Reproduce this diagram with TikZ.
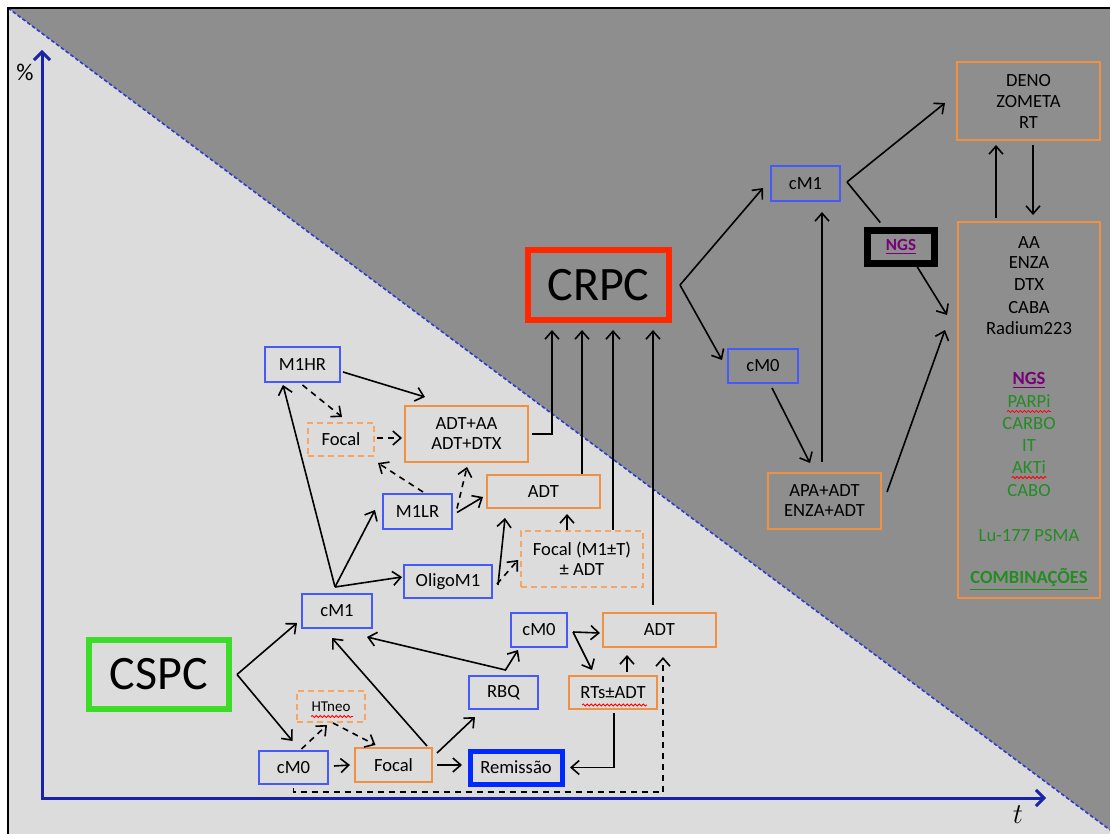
\documentclass[tikz,border=0pt]{standalone}
\usepackage{fontspec}
\setmainfont{Carlito}
\usetikzlibrary{arrows.meta,decorations.pathmorphing,calc}
\definecolor{boxblue}{RGB}{70,90,250}
\definecolor{boxorange}{RGB}{240,145,65}
\definecolor{dashorange}{RGB}{245,165,100}
\definecolor{lightbg}{RGB}{220,220,220}
\definecolor{darkbg}{RGB}{142,142,142}
\definecolor{axisblue}{RGB}{25,35,170}
\definecolor{diagblue}{RGB}{45,60,200}
\definecolor{cspcgreen}{RGB}{60,220,40}
\definecolor{crpcred}{RGB}{255,40,0}
\definecolor{remblue}{RGB}{0,40,255}
\definecolor{txtgreen}{RGB}{35,140,35}
\definecolor{ngspurple}{RGB}{120,0,120}
\begin{document}
\begin{tikzpicture}[x=0.5pt,y=-0.5pt,
  >={Straight Barb[length=4pt,width=7pt]},
  nb/.style={inner sep=0pt, outer sep=0pt, align=center, font=\fontsize{9.3}{10}\selectfont},
  bluebox/.style={nb, draw=boxblue, line width=0.75pt},
  orangebox/.style={nb, draw=boxorange, line width=0.75pt},
  dashbox/.style={nb, draw=dashorange, line width=0.75pt, dash pattern=on 3pt off 2pt},
  sz/.style 2 args={minimum width=#1*0.5pt, minimum height=#2*0.5pt},
  conn/.style={draw=black, line width=0.8pt},
  dconn/.style={conn, dash pattern=on 3pt off 2.5pt},
  wavy/.style={draw=red, line width=0.4pt, decorate, decoration={snake, amplitude=0.5pt, segment length=2pt}},
  listtxt/.style={inner sep=0pt, anchor=base, font=\fontsize{9.3}{10}\selectfont},
  greentxt/.style={listtxt, text=txtgreen},
]
\useasboundingbox (0,0) rectangle (1110,834);
% background
\fill[white] (0,0) rectangle (1110,834);
\fill[lightbg] (8,8) -- (1110,830) -- (1110,834) -- (8,834) -- cycle;
\fill[darkbg] (8,8) -- (1110,8) -- (1110,830) -- cycle;
\draw[diagblue, line width=0.8pt, dash pattern=on 1.8pt off 1.2pt] (8,8) -- (1110,830);
\draw[black, line width=1pt] (8,834) -- (8,8) -- (1110,8);
% axes
\draw[axisblue, line width=1.5pt, {Straight Barb[length=4pt,width=8pt]}-{Straight Barb[length=4pt,width=8pt]}] (42,50) -- (42,798) -- (1046,798);
\node[font=\fontsize{12}{12}\selectfont] (pct) at (25,72) {\%};
\node[font=\fontsize{14}{14}\selectfont] (tlab) at (1018,815) {$t$};

% nodes
\node[draw=cspcgreen, line width=3pt, nb, sz={140.5}{69}, font=\fontsize{24}{26}\selectfont] (cspc) at (158.75,674.5) {CSPC};
\node[draw=crpcred, line width=3pt, nb, sz={141}{70}, font=\fontsize{24}{26}\selectfont] (crpc) at (598.5,285) {CRPC};
\node[bluebox, sz={70}{34}] (cmA) at (337,611) {cM1};
\node[bluebox, sz={69}{33}] (cmB) at (293.5,767.5) {cM0};
\node[dashbox, sz={68}{31}, font=\fontsize{7.5}{9}\selectfont] (htneo) at (331,706.5) {HTneo};
\node[orangebox, sz={77}{34}] (focalB) at (393.5,765) {Focal};
\node[draw=remblue, line width=2.5pt, nb, sz={92}{33}] (remis) at (516,767.5) {Remissão};
\node[bluebox, sz={69}{33}] (rbq) at (503.5,692.5) {RBQ};
\node[bluebox, sz={56}{34}] (cmC) at (539,630) {cM0};
\node[orangebox, sz={113}{34}] (adtB) at (659.5,630) {ADT};
\node[orangebox, sz={88}{33}] (rts) at (613,692.5) {RTs±ADT};
\node[bluebox, sz={88}{33}] (oligo) at (448,581.5) {OligoM1};
\node[dashbox, sz={122}{56}] (focalT) at (582,559) {Focal (M1±T)\\± ADT};
\node[orangebox, sz={113}{33}] (adtM) at (543.5,491.5) {ADT};
\node[bluebox, sz={69}{35}] (mlr) at (417.5,511.5) {M1LR};
\node[dashbox, sz={66}{33}] (focalU) at (341,439.5) {Focal};
\node[orangebox, sz={123}{56}] (adtaa) at (466.5,434) {ADT+AA\\ADT+DTX};
\node[bluebox, sz={75}{35}] (mhr) at (302.5,364.5) {M1HR};
\node[bluebox, sz={69}{35}] (cmD) at (805.5,183.5) {cM1};
\node[bluebox, sz={70}{34}] (cmE) at (763,366) {cM0};
\node[orangebox, sz={113}{56}] (apa) at (824.5,501) {APA+ADT\\ENZA+ADT};
\node[draw=black, line width=3.5pt, nb, sz={67.5}{33}, font=\bfseries\fontsize{8.5}{10}\selectfont, text=ngspurple] (ngs) at (901,247) {\underline{NGS}};
\node[orangebox, sz={143}{78}, font=\fontsize{9.3}{10.5}\selectfont] (deno) at (1028.5,101) {DENO\\ZOMETA\\RT};
\node[orangebox, sz={142}{376}] (big) at (1029,410) {};

% list in big box
\node[listtxt] (l1) at (1029,248.5) {AA};
\node[listtxt] (l2) at (1029,268.5) {ENZA};
\node[listtxt] (l3) at (1029,290.5) {DTX};
\node[listtxt] (l4) at (1029,313.5) {CABA};
\node[listtxt] (l5) at (1029,334.5) {Radium223};
\node[listtxt, text=ngspurple, font=\bfseries\fontsize{9.3}{10}\selectfont] (l6) at (1029,384.5) {\underline{NGS}};
\node[greentxt] (l7) at (1029,407.5) {PARPi};
\node[greentxt] (l8) at (1029,429.5) {CARBO};
\node[greentxt] (l9) at (1029,451.5) {IT};
\node[greentxt] (l10) at (1029,473.5) {AKTi};
\node[greentxt] (l11) at (1029,496.5) {CABO};
\node[greentxt] (l12) at (1029,541.5) {Lu-177 PSMA};
\node[greentxt, font=\bfseries\fontsize{9.3}{10}\selectfont] (l13) at (1029,583.5) {\underline{COMBINAÇÕES}};

% wavy spell-check underlines
\draw[wavy] ([shift={(-20,10)}]htneo.center) -- ([shift={(22,10)}]htneo.center);
\draw[wavy] ([shift={(-31,12.5)}]rts.center) -- ([shift={(34,12.5)}]rts.center);
\draw[wavy] ([shift={(0,4)}]l7.base west) -- ([shift={(0,4)}]l7.base east);
\draw[wavy] ([shift={(0,4)}]l10.base west) -- ([shift={(0,4)}]l10.base east);

% connectors, lower left
\coordinate (vA) at ([shift={(8,0)}]cspc.east);
\draw[conn,->] (vA) -- ([shift={(-5,-5)}]cmA.south west);
\draw[conn,->] (vA) -- ([shift={(-1,-10)}]cmB.north);
\draw[conn,->] ([shift={(6,-1.5)}]cmB.east) -- ([shift={(-5,0)}]focalB.west);
\draw[conn,->] ([shift={(5,0)}]focalB.east) -- ([shift={(-8,-2.5)}]remis.west);
\draw[dconn,->] ([shift={(8,-2)}]cmB.north) -- ([shift={(-4,3)}]htneo.south);
\draw[dconn,->] ([shift={(2,1)}]htneo.south) -- ([shift={(-18,-3)}]focalB.north);
\draw[conn,->] ([shift={(-5,-2)}]focalB.north east) -- ([shift={(-5,10)}]cmA.south);
\draw[conn,->] ([shift={(5,5)}]focalB.north east) -- ([shift={(6,8)}]rbq.south west);
\draw[conn,<->] ([shift={(-5,9)}]cmA.south east) -- ([shift={(2,-6)}]rbq.north) -- ([shift={(7,3)}]cmC.south west);
\coordinate (vB) at ([shift={(6,2)}]cmC.east);
\draw[conn,->] (vB) -- ([shift={(-3,3)}]adtB.west);
\draw[conn,->] (vB) -- ([shift={(-21,-6)}]rts.north);
\draw[conn,->] ([shift={(14,-4)}]rts.north) -- ([shift={(-32.5,8)}]adtB.south);
\draw[conn,->] ([shift={(1,4)}]rts.south) |- ([shift={(8,0)}]remis.east);
\draw[dconn,->] ([shift={(0,4)}]cmB.south) -- ++(0,4) -| ([shift={(3.5,10)}]adtB.south);

% into CRPC
\draw[conn,->] ([shift={(4,0)}]adtaa.east) -| ([shift={(-46.5,10)}]crpc.south);
\draw[conn,->] ([shift={(38.5,-1)}]adtM.north) -- ([shift={(-16.5,10)}]crpc.south);
\draw[conn,->] ([shift={(31,-1)}]focalT.north) -- ([shift={(14.5,10)}]crpc.south);
\draw[conn,->] ([shift={(-6.5,-8)}]adtB.north) -- ([shift={(54.5,10)}]crpc.south);

% cM1 branches
\coordinate (vC) at ([shift={(-2,-7)}]cmA.north);
\draw[conn,->] (vC) -- ([shift={(-19.5,3)}]mhr.south);
\draw[conn,->] (vC) -- ([shift={(-8,-1.5)}]mlr.west);
\draw[conn,->] (vC) -- ([shift={(-2,-4.5)}]oligo.west);
\draw[conn,->] ([shift={(3,7.5)}]mhr.east) -- ([shift={(20,-9)}]adtaa.north west);
\draw[dconn,->] ([shift={(0,3)}]mhr.south) -- ([shift={(1,-6)}]focalU.north);
\draw[dconn,->] ([shift={(3,-1.5)}]focalU.east) -- ([shift={(-3,4)}]adtaa.west);
\draw[dconn,->] ([shift={(5.5,-2)}]mlr.north) -- ([shift={(4,7)}]focalU.south east);
\draw[dconn,->] ([shift={(5,-3)}]mlr.east) -- ([shift={(0.5,5)}]adtaa.south);
\draw[conn,->] ([shift={(5,1)}]mlr.east) -- ([shift={(-4,5.5)}]adtM.west);
\draw[conn,->] ([shift={(6,3.5)}]oligo.east) -- ([shift={(18,10)}]adtM.south west);
\draw[dconn,->] ([shift={(5,2.5)}]oligo.east) -- ([shift={(-3,1)}]focalT.west);
\draw[conn,->] ([shift={(-15,-1)}]focalT.north) -- ([shift={(23.5,6)}]adtM.south);

% right part
\coordinate (vD) at ([shift={(11,0)}]crpc.east);
\draw[conn,->] (vD) -- ([shift={(-8,4.5)}]cmD.west);
\draw[conn,->] (vD) -- ([shift={(-6,-6)}]cmE.west);
\draw[conn,->] ([shift={(9,5)}]cmE.south) -- ([shift={(-14.5,-10)}]apa.north);
\draw[conn,->] ([shift={(-2.5,-11)}]apa.north) -- ([shift={(16.5,11)}]cmD.south);
\coordinate (vE) at ([shift={(7,-1.5)}]cmD.east);
\draw[conn,->] (vE) -- ([shift={(-12,2)}]deno.west);
\draw[conn] (vE) -- ([shift={(13,-8)}]ngs.north west);
\draw[conn,->] ([shift={(16,3)}]ngs.south) -- ([shift={(-11,-95)}]big.west);
\draw[conn,->] ([shift={(6,-9)}]apa.east) -- ([shift={(-13,-80)}]big.west);
\draw[conn,->] ([shift={(-33,-4)}]big.north) -- ([shift={(-32.5,5)}]deno.south);
\draw[conn,->] ([shift={(4.5,5)}]deno.south) -- ([shift={(4,-7)}]big.north);
\end{tikzpicture}
\end{document}
